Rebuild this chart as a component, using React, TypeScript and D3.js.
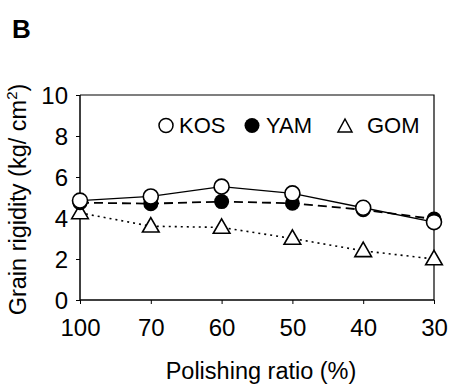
import * as d3 from 'd3'
import { useEffect, useRef } from 'react'

const ratios = ['100', '70', '60', '50', '40', '30']
const kos = [4.85, 5.05, 5.53, 5.2, 4.5, 3.8]
const yam = [4.75, 4.7, 4.8, 4.72, 4.4, 3.95]
const gom = [4.25, 3.6, 3.54, 3.0, 2.4, 2.0]
const yTicks = [0, 2, 4, 6, 8, 10]

const font = '"Liberation Sans", Arial, sans-serif'

const App = () => {
    const svgRef = useRef<SVGSVGElement>(null)

    useEffect(() => {
        const w = 449
        const h = 386
        const svg = d3.select(svgRef.current)
                      .attr('width', w)
                      .attr('height', h)
                      .style('background', '#fff')
        svg.selectAll('*').remove()

        const left = 80, right = 434, top = 95, bottom = 300

        const xScale = d3.scalePoint()
                         .domain(ratios)
                         .range([left, right])
                         .padding(0)

        const yScale = d3.scaleLinear()
                         .domain([0, 10])
                         .range([bottom, top])

        // panel letter
        svg.append('text')
           .attr('x', 12)
           .attr('y', 38)
           .attr('font-family', font)
           .attr('font-weight', 'bold')
           .attr('font-size', 26)
           .text('B')

        // box (top + right)
        svg.append('path')
           .attr('d', `M${left},${top}H${right}V${bottom}`)
           .attr('fill', 'none')
           .attr('stroke', '#000')
           .attr('stroke-width', 1.2)

        const xAxis = d3.axisBottom(xScale).tickSize(4).tickPadding(15)
        const gx = svg.append('g')
                      .attr('transform', `translate(0, ${bottom})`)
                      .call(xAxis)
        gx.select('.domain').attr('stroke-width', 1.5).attr('d', `M${left},0H${right}`)
        gx.selectAll('text').attr('font-family', font).attr('font-size', 24).attr('fill', '#000')

        const yAxis = d3.axisLeft(yScale).tickValues(yTicks).tickSize(4).tickPadding(8)
        const gy = svg.append('g')
                      .attr('transform', `translate(${left}, 0)`)
                      .call(yAxis)
        gy.select('.domain').attr('stroke-width', 1.5).attr('d', `M0,${bottom}V${top}`)
        gy.selectAll('text').attr('font-family', font).attr('font-size', 24).attr('fill', '#000').attr('dy', '0.36em')

        svg.append('text')
           .attr('x', 261)
           .attr('y', 379)
           .attr('text-anchor', 'middle')
           .attr('font-family', font)
           .attr('font-size', 23.5)
           .text('Polishing ratio (%)')

        const yl = svg.append('text')
           .attr('transform', `translate(26, ${(top + bottom) / 2 + 2}) rotate(-90)`)
           .attr('text-anchor', 'middle')
           .attr('font-family', font)
           .attr('font-size', 23.5)
        yl.append('tspan').text('Grain rigidity (kg/ cm')
        yl.append('tspan').attr('font-size', 15).attr('dy', -9).text('2')
        yl.append('tspan').attr('dy', 9).text(')')

        const line = d3.line<number>()
                       .x((d, i) => xScale(ratios[i]) as number)
                       .y(d => yScale(d))

        const tri = d3.symbol().type(d3.symbolTriangle).size(120)

        // GOM
        svg.append('path')
           .datum(gom)
           .attr('fill', 'none')
           .attr('stroke', '#000')
           .attr('stroke-width', 1.6)
           .attr('stroke-dasharray', '2,4')
           .attr('d', line)
        svg.selectAll('.gom')
           .data(gom)
           .join('path')
           .attr('class', 'gom')
           .attr('transform', (d, i) => `translate(${xScale(ratios[i])}, ${yScale(d) + 1})`)
           .attr('d', tri)
           .attr('fill', '#fff')
           .attr('stroke', '#000')
           .attr('stroke-width', 1.6)

        // YAM
        svg.append('path')
           .datum(yam)
           .attr('fill', 'none')
           .attr('stroke', '#000')
           .attr('stroke-width', 1.8)
           .attr('stroke-dasharray', '9,5')
           .attr('d', line)
        svg.selectAll('.yam')
           .data(yam)
           .join('circle')
           .attr('class', 'yam')
           .attr('cx', (d, i) => xScale(ratios[i]) as number)
           .attr('cy', d => yScale(d))
           .attr('r', 7.5)
           .attr('fill', '#000')

        // KOS
        svg.append('path')
           .datum(kos)
           .attr('fill', 'none')
           .attr('stroke', '#000')
           .attr('stroke-width', 1.3)
           .attr('d', line)
        svg.selectAll('.kos')
           .data(kos)
           .join('circle')
           .attr('class', 'kos')
           .attr('cx', (d, i) => xScale(ratios[i]) as number)
           .attr('cy', d => yScale(d))
           .attr('r', 7.5)
           .attr('fill', '#fff')
           .attr('stroke', '#000')
           .attr('stroke-width', 1.6)

        // legend
        const lg = svg.append('g').attr('font-family', font).attr('font-size', 22)
        lg.append('circle').attr('cx', 166).attr('cy', 125.5).attr('r', 7).attr('fill', '#fff').attr('stroke', '#000').attr('stroke-width', 1.5)
        lg.append('text').attr('x', 179).attr('y', 133).text('KOS')
        lg.append('circle').attr('cx', 252).attr('cy', 125.5).attr('r', 7.5).attr('fill', '#000')
        lg.append('text').attr('x', 266).attr('y', 133).text('YAM')
        lg.append('path').attr('d', 'M345,119L352,132H338Z').attr('fill', '#fff').attr('stroke', '#000').attr('stroke-width', 1.5)
        lg.append('text').attr('x', 367).attr('y', 133).text('GOM')
    }, [])

    return (
        <svg ref={svgRef} style={{ position: 'absolute', left: 0, top: 0 }} />
    )
}

export default App
